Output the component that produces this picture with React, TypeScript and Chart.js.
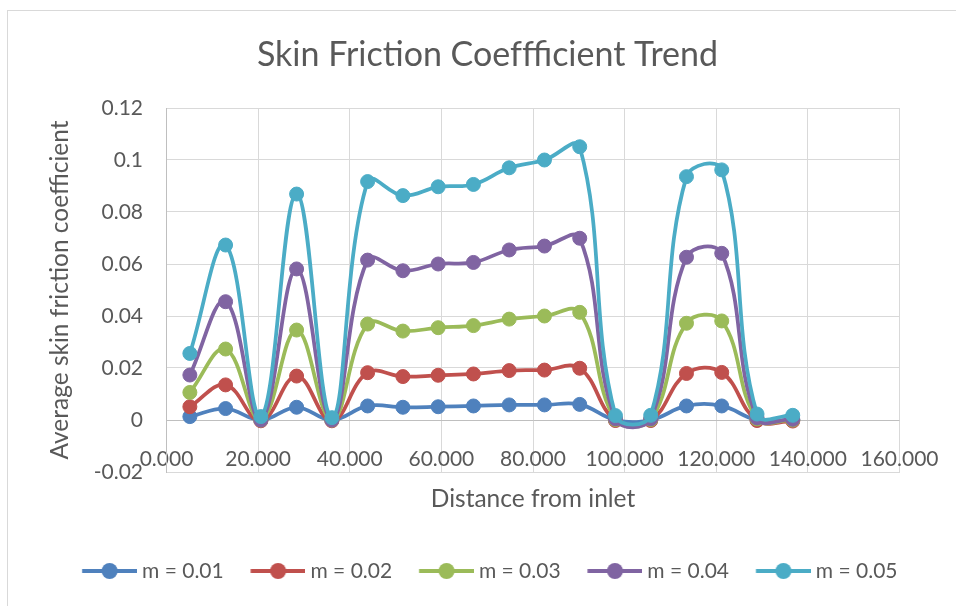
import React, { useEffect, useRef } from "react";
import { Chart, registerables } from "chart.js";

Chart.register(...registerables);

const chartTitle = "Skin Friction Coeffficient Trend";
const xTitle = "Distance from inlet";
const yTitle = "Average skin friction coefficient";

const distance = [5.1, 12.9, 20.6, 28.4, 36.1, 43.9, 51.6, 59.3, 67.0, 74.8, 82.5, 90.2, 98.0, 105.7, 113.5, 121.2, 128.9, 136.7];

const m001 = [0.0013, 0.0044, 0.0, 0.0049, 0.0, 0.0054, 0.0049, 0.0051, 0.0054, 0.0058, 0.0058, 0.006, 0.0, 0.0, 0.0054, 0.0054, 0.0, 0.0];
const m002 = [0.0051, 0.0135, -0.0003, 0.0169, -0.0003, 0.0182, 0.0167, 0.0172, 0.0177, 0.019, 0.0192, 0.0199, -0.0002, -0.0002, 0.0179, 0.0183, -0.0002, -0.0004];
const m003 = [0.0106, 0.0273, 0.0, 0.0346, 0.0, 0.0369, 0.0342, 0.0355, 0.0363, 0.0388, 0.04, 0.0414, 0.0002, 0.0002, 0.0372, 0.0381, 0.0004, 0.0];
const m004 = [0.0173, 0.0455, 0.0, 0.0581, 0.0, 0.0615, 0.0574, 0.06, 0.0606, 0.0654, 0.0669, 0.0699, 0.0005, 0.0005, 0.0626, 0.0641, 0.0008, 0.0003];
const m005 = [0.0256, 0.0673, 0.0013, 0.0869, 0.0009, 0.0917, 0.0863, 0.0897, 0.0906, 0.097, 0.1, 0.1051, 0.0017, 0.0018, 0.0936, 0.0962, 0.0023, 0.0018];

const seriesLabels = ["m = 0.01", "m = 0.02", "m = 0.03", "m = 0.04", "m = 0.05"];
const seriesValues = [m001, m002, m003, m004, m005];
const seriesColors = ["#4F81BD", "#C0504D", "#9BBB59", "#8064A2", "#4BACC6"];

const xTicks = [0, 20, 40, 60, 80, 100, 120, 140, 160];
const yTicks = [-0.02, 0, 0.02, 0.04, 0.06, 0.08, 0.1, 0.12];

const FONT = "Lato, 'Open Sans', sans-serif";
const TEXT = "#595959";
const GRID = "#d9d9d9";
const LEGEND_BOX = 76.25;

function legendIcon(color: string): HTMLCanvasElement {
  const c = document.createElement("canvas");
  const w = LEGEND_BOX + 11;
  c.width = w;
  c.height = 18;
  const g = c.getContext("2d")!;
  g.strokeStyle = color;
  g.lineWidth = 4;
  g.beginPath();
  g.moveTo(w - 55, 9);
  g.lineTo(w, 9);
  g.stroke();
  g.fillStyle = color;
  g.beginPath();
  g.arc(w - 27.5, 9, 8, 0, Math.PI * 2);
  g.fill();
  return c;
}

export default function App() {
  const ref = useRef<HTMLCanvasElement | null>(null);

  useEffect(() => {
    if (!ref.current) return;
    const icons = seriesColors.map(legendIcon);
    const datasets = seriesLabels.map((label, i) => ({
      label,
      data: distance.map((x, j) => ({ x, y: seriesValues[i][j] })),
      borderColor: seriesColors[i],
      backgroundColor: seriesColors[i],
      pointBackgroundColor: seriesColors[i],
      pointBorderColor: seriesColors[i],
      pointRadius: 7,
      pointBorderWidth: 1,
      borderWidth: 3.75,
      tension: 0.4,
      showLine: true,
      order: seriesLabels.length - i,
    }));

    const chart = new Chart(ref.current, {
      type: "scatter",
      data: { datasets },
      options: {
        animation: false,
        responsive: false,
        devicePixelRatio: 1,
        layout: { padding: { left: 55.25, right: 36.25, top: 0, bottom: 14.5 } },
        plugins: {
          tooltip: { enabled: false },
          title: {
            display: true,
            text: chartTitle,
            color: TEXT,
            font: { family: FONT, size: 34, weight: "normal" },
            padding: { top: 34.6, bottom: 32.6 },
          },
          legend: {
            display: true,
            position: "bottom",
            align: "start",
            labels: {
              color: TEXT,
              font: { family: FONT, size: 21 },
              usePointStyle: true,
              pointStyleWidth: LEGEND_BOX,
              padding: 0,
              generateLabels: (ch: any) => {
                const base = Chart.defaults.plugins.legend.labels.generateLabels(ch);
                return base
                  .map((l: any) => ({ ...l, pointStyle: icons[l.datasetIndex] }))
                  .sort((a: any, b: any) => a.datasetIndex - b.datasetIndex);
              },
            },
          },
        },
        scales: {
          x: {
            type: "linear",
            min: 0,
            max: 160,
            afterBuildTicks: (axis: any) => {
              axis.ticks = xTicks.map((v) => ({ value: v }));
            },
            afterFit: (axis: any) => {
              axis.height = 88.5;
            },
            ticks: {
              color: TEXT,
              font: { family: FONT, size: 21 },
              mirror: true,
              padding: 0,
              maxRotation: 0,
              autoSkip: false,
              callback: (v: any) => Number(v).toFixed(3),
            },
            grid: { color: GRID, lineWidth: 1, drawTicks: false },
            border: { display: true, color: GRID, width: 1 },
            title: {
              display: true,
              text: xTitle,
              color: TEXT,
              font: { family: FONT, size: 24.5 },
              padding: { top: 0, bottom: 46.8 },
            },
          },
          y: {
            type: "linear",
            min: -0.02,
            max: 0.12,
            afterBuildTicks: (axis: any) => {
              axis.ticks = yTicks.map((v) => ({ value: v }));
            },
            afterFit: (axis: any) => {
              axis.width = 111.25;
            },
            ticks: {
              color: TEXT,
              font: { family: FONT, size: 21 },
              padding: 23.5,
              callback: (v: any) => String(parseFloat(Number(v).toFixed(2))),
            },
            grid: {
              color: (ctx: any) => (ctx.tick && Math.abs(ctx.tick.value) < 1e-9 ? "#bfbfbf" : GRID),
              lineWidth: 1,
              drawTicks: false,
            },
            border: { display: true, color: "#bfbfbf", width: 1 },
            title: {
              display: true,
              text: yTitle,
              color: TEXT,
              font: { family: FONT, size: 24.5 },
              padding: { top: -9.95, bottom: 0 },
            },
          },
          spacer: {
            type: "linear",
            position: "right",
            display: true,
            afterFit: (axis: any) => {
              axis.width = 20.25;
            },
            ticks: { display: false },
            grid: { display: false, drawTicks: false },
            border: { display: false },
            title: { display: false },
          },
        },
      },
    } as any);
    return () => chart.destroy();
  }, []);

  return (
    <div style={{ position: "fixed", left: 0, top: 0, width: 956, height: 606, background: "#fff", overflow: "hidden" }}>
      <div style={{ position: "absolute", left: 7, top: 10, width: 1000, height: 700, border: "1px solid #d9d9d9" }} />
      <canvas ref={ref} width={956} height={606} style={{ position: "absolute", left: 0, top: 0, width: 956, height: 606 }} />
    </div>
  );
}
